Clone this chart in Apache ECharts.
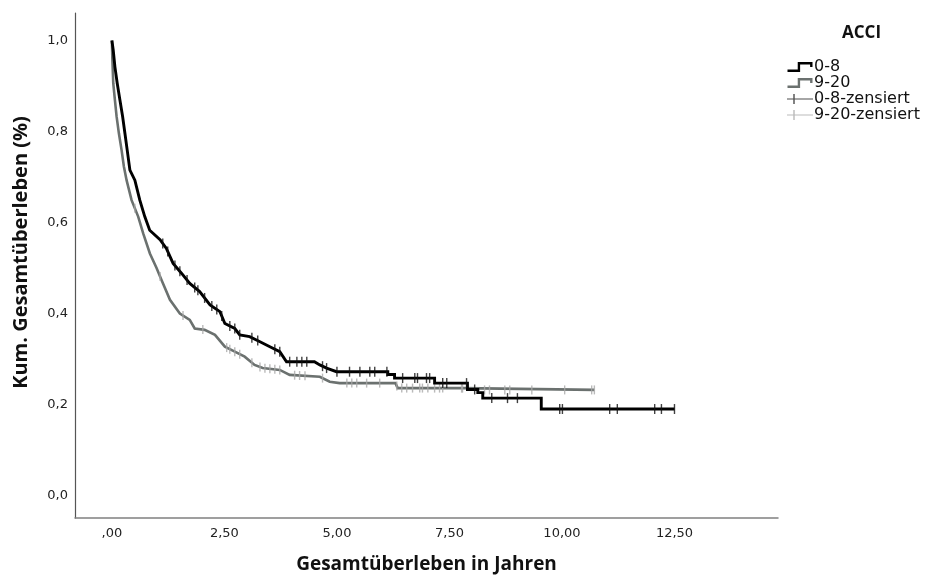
<!DOCTYPE html>
<html>
<head>
<meta charset="utf-8">
<script src="https://cdn.jsdelivr.net/npm/echarts@6/dist/echarts.min.js"></script>
<style>
  html, body { margin: 0; padding: 0; background: #fff; }
  #chart { width: 929px; height: 577px; }
</style>
</head>
<body>
<div id="chart"></div>
<script>
// Kaplan-Meier curve corners, ACCI 0-8 (black)
const lowTimes = [0, 0.029, 0.067, 0.118, 0.178, 0.238, 0.289, 0.34, 0.40, 0.51, 0.62, 0.73, 0.84,
  1.07, 1.21, 1.36, 1.55, 1.73, 1.95, 2.18, 2.40, 2.51, 2.73, 2.84, 3.06, 3.29, 3.51, 3.73, 3.88,
  4.50, 4.62, 4.77, 4.99, 6.13, 6.13, 6.28, 6.28, 7.17, 7.17, 7.90, 7.90, 8.13, 8.13, 8.24, 8.24,
  9.54, 9.54, 12.50]
const lowSurv = [1.0, 0.979, 0.942, 0.906, 0.869, 0.833, 0.796, 0.759, 0.715, 0.693, 0.649, 0.613, 0.583,
  0.562, 0.543, 0.510, 0.488, 0.466, 0.448, 0.419, 0.404, 0.378, 0.367, 0.353, 0.349, 0.338, 0.327, 0.316, 0.294,
  0.294, 0.287, 0.280, 0.272, 0.272, 0.266, 0.266, 0.258, 0.258, 0.247, 0.247, 0.233, 0.233, 0.226, 0.226, 0.214,
  0.214, 0.190, 0.190]
const lowCensored = [1.13, 1.24, 1.40, 1.51, 1.67, 1.84, 1.91, 2.06, 2.22, 2.33, 2.44, 2.62, 2.73, 2.84,
  3.11, 3.24, 3.62, 3.73, 3.95, 4.11, 4.22, 4.33, 4.68, 4.77, 5.00, 5.28, 5.51, 5.73, 5.84, 6.11, 6.46,
  6.73, 6.79, 6.99, 7.06, 7.35, 7.44, 7.88, 8.06, 8.44, 8.79, 9.01, 9.95, 10.01, 11.06, 11.23, 12.06, 12.21, 12.50]

// ACCI 9-20 (grey)
const highTimes = [0, 0.01, 0.03, 0.067, 0.104, 0.155, 0.215, 0.266, 0.326, 0.437, 0.584, 0.695, 0.844,
  0.992, 1.10, 1.29, 1.51, 1.73, 1.84, 2.06, 2.29, 2.51, 2.73, 2.95, 3.17, 3.35, 3.73, 3.95, 4.62, 4.84,
  5.06, 6.30, 6.35, 7.80, 7.84, 10.72]
const highSurv = [1.0, 0.96, 0.906, 0.869, 0.833, 0.796, 0.759, 0.723, 0.693, 0.649, 0.613, 0.576, 0.532,
  0.500, 0.474, 0.430, 0.400, 0.386, 0.367, 0.364, 0.353, 0.327, 0.316, 0.305, 0.287, 0.280, 0.276, 0.265, 0.261, 0.250,
  0.247, 0.247, 0.236, 0.236, 0.232, 0.232]
const highCensored = [0.51, 1.07, 1.58, 2.02, 2.55, 2.62, 2.73, 2.84, 3.11, 3.29, 3.40, 3.51, 3.62, 3.73,
  4.06, 4.17, 4.29, 4.68, 5.22, 5.33, 5.44, 5.66, 5.95, 6.33, 6.44, 6.55, 6.68, 6.84, 6.90, 7.02, 7.17,
  7.28, 7.35, 7.77, 7.79, 8.28, 8.39, 8.73, 8.84, 9.33, 10.06, 10.66, 10.72]

const xTicks = [0, 2.5, 5, 7.5, 10, 12.5]
const xTickLabels = [',00', '2,50', '5,00', '7,50', '10,00', '12,50']
const yTicks = [0, 0.2, 0.4, 0.6, 0.8, 1.0]
const yTickLabels = ['0,0', '0,2', '0,4', '0,6', '0,8', '1,0']

const seriesNames = ['0-8', '9-20', '0-8-zensiert', '9-20-zensiert']

const toPairs = (ts, ss) => ts.map((t, i) => [t, ss[i]])
// height of the drawn curve at time t, so censor ticks sit on the line
const survAt = (ts, ss, t) => {
  let i = 0
  while (i < ts.length - 1 && ts[i + 1] <= t) i++
  if (i >= ts.length - 1 || ts[i + 1] === ts[i]) return ss[i]
  const f = (t - ts[i]) / (ts[i + 1] - ts[i])
  return ss[i] + f * (ss[i + 1] - ss[i])
}
const labelFor = (ticks, labels) => (v) => {
  const idx = ticks.findIndex(t => Math.abs(t - v) < 1e-6)
  return idx >= 0 ? labels[idx] : ''
}

const BLACK = '#000000'
const GREY = '#6b716f'
const GREY_CENSOR = '#a9a9a9'

const stepIcon = 'path://M0,7.75 L10.75,7.75 L10.75,-0.25 L26.25,-0.25 L26.25,5 L23.75,5 L23.75,2.25 L13.25,2.25 L13.25,10.25 L0,10.25 Z'
const crossIcon = 'path://M0,4.4 L26,4.4 L26,5.6 L0,5.6 Z M6.3,0 L7.7,0 L7.7,10 L6.3,10 Z'

const chart = echarts.init(document.getElementById('chart'))

const option = {
  animation: false,
  backgroundColor: '#fff',
  title: {
    text: 'ACCI',
    left: 837,
    top: 20,
    textStyle: { fontFamily: 'Open Sans', fontWeight: 'bold', fontSize: 17, color: '#111' }
  },
  legend: {
    orient: 'vertical',
    left: 782,
    top: 54,
    itemWidth: 26,
    itemHeight: 10,
    itemGap: 0,
    textStyle: { fontFamily: 'DejaVu Sans', fontSize: 16, lineHeight: 15.5, color: '#111', padding: [0, 0, 0, -4] },
    data: [
      { name: seriesNames[0], icon: stepIcon, itemStyle: { color: BLACK } },
      { name: seriesNames[1], icon: stepIcon, itemStyle: { color: GREY } },
      { name: seriesNames[2], icon: crossIcon, itemStyle: { color: '#222' } },
      { name: seriesNames[3], icon: crossIcon, itemStyle: { color: GREY_CENSOR } }
    ]
  },
  grid: { left: 75, right: 151, top: 13, bottom: 59, outerBoundsMode: 'none' },
  xAxis: {
    type: 'value',
    min: -0.82,
    max: 14.8,
    name: 'Gesamtüberleben in Jahren',
    nameLocation: 'middle',
    nameGap: 37,
    nameTextStyle: { fontFamily: 'Open Sans', fontWeight: 'bold', fontSize: 19, color: '#111' },
    axisLine: { onZero: false, lineStyle: { color: '#808080', width: 1.5 } },
    axisTick: { show: false },
    splitLine: { show: false },
    axisLabel: {
      customValues: xTicks,
      formatter: labelFor(xTicks, xTickLabels),
      margin: 9,
      fontFamily: 'DejaVu Sans',
      fontSize: 13,
      color: '#222'
    }
  },
  yAxis: {
    type: 'value',
    min: -0.0495,
    max: 1.0604,
    name: 'Kum. Gesamtüberleben (%)',
    nameLocation: 'middle',
    nameGap: 44,
    nameTextStyle: { fontFamily: 'Open Sans', fontWeight: 'bold', fontSize: 20, color: '#111', padding: [0, 0, 0, 26] },
    axisLine: { onZero: false, lineStyle: { color: '#555', width: 1.2 } },
    axisTick: { show: false },
    splitLine: { show: false },
    axisLabel: {
      customValues: yTicks,
      formatter: labelFor(yTicks, yTickLabels),
      margin: 7,
      fontFamily: 'DejaVu Sans',
      fontSize: 13,
      color: '#222'
    }
  },
  series: [
    {
      name: seriesNames[1],
      type: 'line',
      showSymbol: false,
      data: toPairs(highTimes, highSurv),
      lineStyle: { color: GREY, width: 2.6, join: 'miter' },
      itemStyle: { color: GREY },
      z: 2
    },
    {
      name: seriesNames[3],
      type: 'scatter',
      symbol: 'rect',
      symbolSize: [1.4, 9],
      data: highCensored.map(t => [t, survAt(highTimes, highSurv, t)]),
      itemStyle: { color: GREY_CENSOR },
      z: 3
    },
    {
      name: seriesNames[0],
      type: 'line',
      showSymbol: false,
      data: toPairs(lowTimes, lowSurv),
      lineStyle: { color: BLACK, width: 2.9, join: 'miter' },
      itemStyle: { color: BLACK },
      z: 4
    },
    {
      name: seriesNames[2],
      type: 'scatter',
      symbol: 'rect',
      symbolSize: [1.4, 10],
      data: lowCensored.map(t => [t, survAt(lowTimes, lowSurv, t)]),
      itemStyle: { color: '#111' },
      z: 5
    }
  ]
}

chart.setOption(option)
window.addEventListener('resize', () => chart.resize())
</script>
</body>
</html>
